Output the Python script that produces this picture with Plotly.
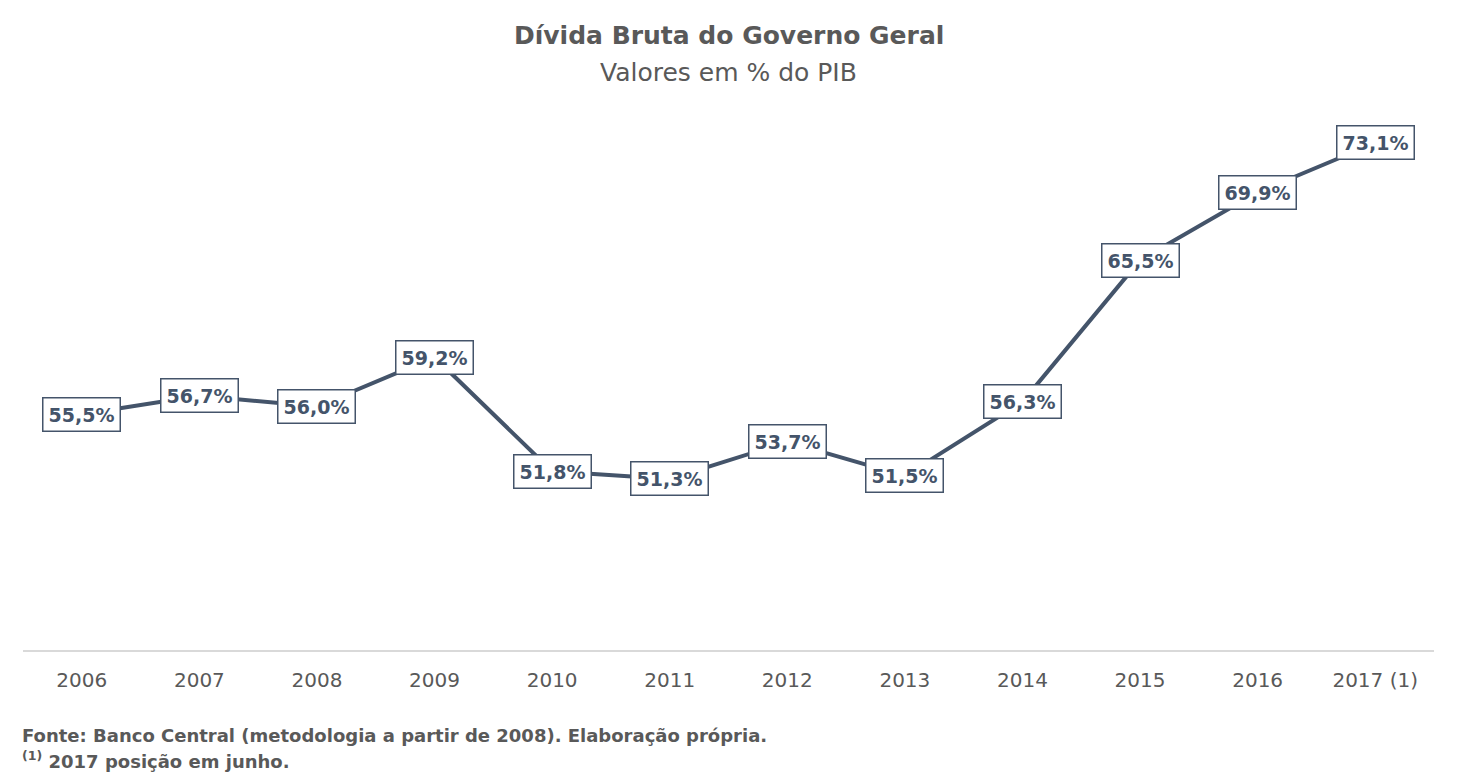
import plotly.graph_objects as go

anos = ["2006", "2007", "2008", "2009", "2010", "2011", "2012", "2013", "2014", "2015", "2016", "2017 (1)"]
divida = [55.5, 56.7, 56.0, 59.2, 51.8, 51.3, 53.7, 51.5, 56.3, 65.5, 69.9, 73.1]
rotulos = ["55,5%", "56,7%", "56,0%", "59,2%", "51,8%", "51,3%", "53,7%", "51,5%", "56,3%", "65,5%", "69,9%", "73,1%"]

azul = "#44546a"
cinza = "#595959"
fonte = "DejaVu Sans"

pos = list(range(len(anos)))

fig = go.Figure()
fig.add_trace(go.Scatter(x=pos, y=divida, mode="lines",
                         line=dict(color=azul, width=4), hoverinfo="skip"))

# rótulos com caixa em cada ponto
for p, v, r in zip(pos, divida, rotulos):
    fig.add_annotation(x=p, y=v, xref="x", yref="y", text="<b>" + r + "</b>",
                       showarrow=False, bgcolor="white", bordercolor=azul,
                       borderwidth=1.5, borderpad=5,
                       font=dict(family=fonte, size=19, color=azul))

fig.update_layout(
    width=1457, height=775,
    margin=dict(l=23, r=23, t=114, b=125),
    plot_bgcolor="white", paper_bgcolor="white",
    showlegend=False,
    font=dict(family=fonte, color=cinza),
    xaxis=dict(range=[-0.5, len(anos) - 0.5], tickvals=pos, ticktext=anos,
               showgrid=False, showline=True, linecolor="#d9d9d9", linewidth=2,
               ticks="", ticklabelstandoff=11, tickfont=dict(size=20, color=cinza),
               zeroline=False),
    yaxis=dict(range=[40.2, 74.98], visible=False, showgrid=False),
)

fig.add_annotation(x=0.5, y=1, xref="paper", yref="paper", yshift=79, yanchor="middle",
                   text="<b>Dívida Bruta do Governo Geral</b>", showarrow=False,
                   font=dict(family=fonte, size=25, color=cinza))
fig.add_annotation(x=0.5, y=1, xref="paper", yref="paper", yshift=42, yanchor="middle",
                   text="Valores em % do PIB", showarrow=False,
                   font=dict(family=fonte, size=25, color=cinza))
fig.add_annotation(x=0, y=0, xref="paper", yref="paper", yshift=-85, xshift=-3,
                   xanchor="left", yanchor="middle",
                   text="<b>Fonte: Banco Central (metodologia a partir de 2008). Elaboração própria.</b>",
                   showarrow=False, font=dict(family=fonte, size=18, color=cinza))
fig.add_annotation(x=0, y=0, xref="paper", yref="paper", yshift=-110, xshift=-3,
                   xanchor="left", yanchor="middle",
                   text="<b><sup>(1)</sup> 2017 posição em junho.</b>",
                   showarrow=False, font=dict(family=fonte, size=18, color=cinza))

fig.write_html("out.html", config={"displayModeBar": False},
               post_script="document.body.style.margin='0';")
